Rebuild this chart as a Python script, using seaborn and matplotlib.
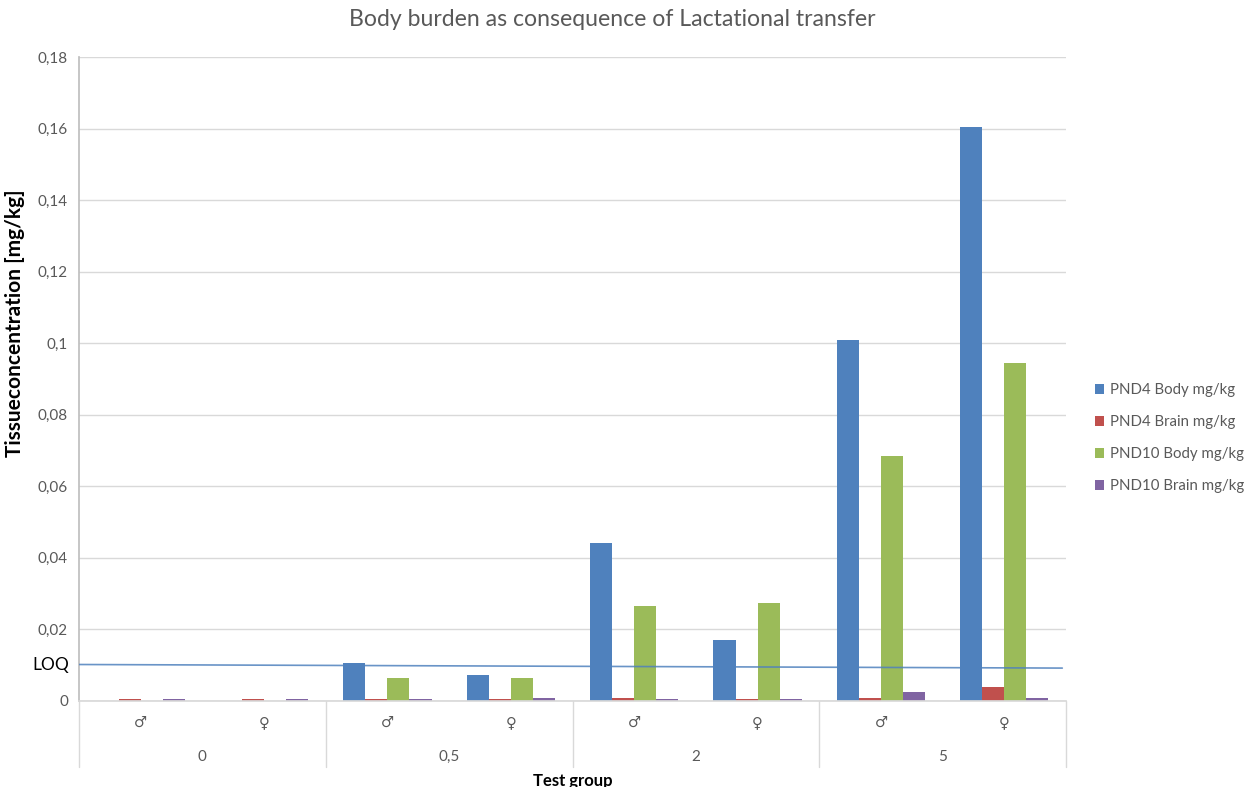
import matplotlib
matplotlib.use("Agg")
import matplotlib.pyplot as plt
import matplotlib.transforms as mtransforms
import seaborn as sns
import pandas as pd

doses = ["0", "0,5", "2", "5"]
sexes = ["♂", "♀"]
series = ["PND4 Body mg/kg", "PND4 Brain mg/kg", "PND10 Body mg/kg", "PND10 Brain mg/kg"]
colors = ["#4F81BD", "#C0504D", "#9BBB59", "#8064A2"]

# values per (dose, sex) in order 0♂,0♀,0.5♂,0.5♀,2♂,2♀,5♂,5♀
pnd4_body = [0.0, 0.0, 0.0106, 0.0073, 0.0442, 0.0170, 0.1009, 0.1604]
pnd4_brain = [0.0005, 0.0005, 0.0005, 0.0005, 0.0009, 0.0005, 0.0009, 0.0039]
pnd10_body = [0.0, 0.0, 0.0064, 0.0064, 0.0266, 0.0274, 0.0685, 0.0945]
pnd10_brain = [0.0005, 0.0005, 0.0005, 0.0007, 0.0005, 0.0005, 0.0025, 0.0007]
loq_line = [0.0102, 0.0092]

yticks = [0, 0.02, 0.04, 0.06, 0.08, 0.1, 0.12, 0.14, 0.16, 0.18]

sns.set_theme(style="white")
plt.rcParams["font.family"] = ["Lato", "DejaVu Sans"]

cats = [f"{d}|{s}" for d in doses for s in sexes]
rows = []
for name, vals in zip(series, [pnd4_body, pnd4_brain, pnd10_body, pnd10_brain]):
    for c, v in zip(cats, vals):
        rows.append({"cat": c, "value": v, "series": name})
df = pd.DataFrame(rows)

fig = plt.figure(figsize=(12.54, 7.87), dpi=100)
ax = fig.add_axes([79 / 1254, 86 / 787, 987 / 1254, 644 / 787])

sns.barplot(data=df, x="cat", y="value", hue="series", order=cats, hue_order=series,
            palette=colors, width=0.715, gap=0, ax=ax, saturation=1, legend=True,
            edgecolor="none", linewidth=0)

ax.set_ylim(0, 0.18)
ax.set_xlim(-0.5, len(cats) - 0.5)
ax.set_yticks(yticks)
ax.set_yticklabels([("%g" % t).replace(".", ",") for t in yticks], color="#595959", fontsize=11)
ax.yaxis.grid(True, color="#D9D9D9", linewidth=1)
ax.set_axisbelow(True)
ax.tick_params(axis="y", length=0, pad=8)
ax.set_xticks([])
ax.set_xlabel("")
ax.set_ylabel("Tissueconcentration [mg/kg]", fontsize=15, fontweight="bold", color="black")
ax.yaxis.set_label_coords(-0.055, 0.587)
for s in ["top", "right"]:
    ax.spines[s].set_visible(False)
ax.spines["left"].set_color("#BFBFBF")
ax.spines["bottom"].set_color("#D9D9D9")

# LOQ line
ax.plot([-0.5, len(cats) - 0.53], loq_line, color="#4F81BD", linewidth=1.2, alpha=0.85, zorder=5)
trans = mtransforms.blended_transform_factory(ax.transAxes, ax.transData)
ax.text(-0.047, loq_line[0], "LOQ", transform=trans, ha="left", va="center", fontsize=12.5, color="black")

# multi-level category axis
tx = mtransforms.blended_transform_factory(ax.transData, ax.transAxes)
for i, c in enumerate(cats):
    ax.text(i, -0.033, c.split("|")[1], transform=tx, ha="center", va="center", fontsize=10.5, color="#595959",
            family=["DejaVu Sans"])
for j, d in enumerate(doses):
    ax.text(2 * j + 0.5, -0.087, d, transform=tx, ha="center", va="center", fontsize=11, color="#595959")
for k in range(len(doses) + 1):
    ax.plot([2 * k - 0.5, 2 * k - 0.5], [0, -0.1025], transform=tx, color="#D9D9D9", linewidth=1, clip_on=False)
ax.text(0.5, -0.124, "Test group", transform=ax.transAxes, ha="center", va="center", fontsize=12, fontweight="bold",
        color="black")

fig.text(612 / 1254, 1 - 20 / 787, "Body burden as consequence of Lactational transfer", ha="center", va="center",
         fontsize=16.6, color="#595959")

leg = ax.legend(loc="center left", bbox_to_anchor=(1.029, 0.408), frameon=False, fontsize=10.8,
                borderaxespad=0, borderpad=0,
                handlelength=0.6, handleheight=0.6, handletextpad=0.45, labelspacing=1.2)
for t in leg.get_texts():
    t.set_color("#595959")

fig.savefig("out.png", dpi=100)
